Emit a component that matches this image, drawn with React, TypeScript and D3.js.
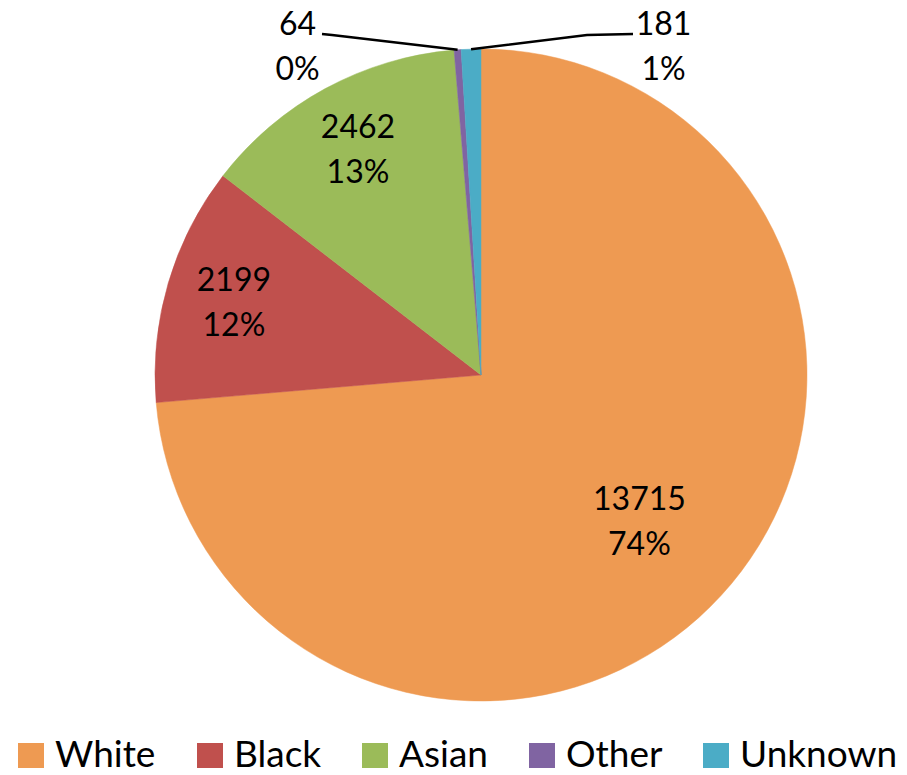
import React from "react";
import * as d3 from "d3";

const categories = ["White", "Black", "Asian", "Other", "Unknown"];
const values = [13715, 2199, 2462, 64, 181];
const percentLabels = ["74%", "12%", "13%", "0%", "1%"];
const colors = ["#EE9A52", "#C0504D", "#9BBB59", "#8064A2", "#4BACC6"];

const W = 907;
const H = 775;
const CX = 481;
const CY = 375;
const R = 326;
const FONT = "Lato, 'Open Sans', sans-serif";

export default function App() {
  const pie = d3.pie<number>().sort(null).value((d) => d);
  const arcs = pie(values);
  const arcGen = d3.arc<d3.PieArcDatum<number>>().innerRadius(0).outerRadius(R);

  const insideFrac: Record<number, number> = { 0: 0.66, 1: 0.79, 2: 0.79 };

  const polar = (angle: number, r: number) => [
    CX + r * Math.sin(angle),
    CY - r * Math.cos(angle),
  ];

  const legendX = [18, 197, 362, 529, 703];

  return (
    <svg
      width={W}
      height={H}
      style={{ position: "absolute", left: 0, top: 0, background: "#fff" }}
      fontFamily={FONT}
    >
      <g transform={`translate(${CX},${CY})`}>
        {arcs.map((a, i) => (
          <path key={i} d={arcGen(a) || ""} fill={colors[i]} stroke={colors[i]} strokeWidth={0.5} />
        ))}
      </g>
      {arcs.map((a, i) => {
        const mid = (a.startAngle + a.endAngle) / 2;
        if (insideFrac[i] !== undefined) {
          const [x, y] = polar(mid, R * insideFrac[i]);
          return (
            <g key={i} fontSize={32} fill="#000" textAnchor="middle">
              <text x={x} y={y - 11}>{values[i]}</text>
              <text x={x} y={y + 34}>{percentLabels[i]}</text>
            </g>
          );
        }
        const [ex, ey] = polar(mid, R);
        const left = i === 3;
        const elbowX = left ? 332 : 587;
        const endX = left ? 322 : 633;
        const labelX = left ? 297.5 : 663.5;
        return (
          <g key={i}>
            <polyline
              points={`${ex},${ey} ${elbowX},35 ${endX},34`}
              fill="none"
              stroke="#000"
              strokeWidth={2.5}
            />
            <g fontSize={32} fill="#000" textAnchor="middle">
              <text x={labelX} y={35}>{values[i]}</text>
              <text x={labelX} y={80}>{percentLabels[i]}</text>
            </g>
          </g>
        );
      })}
      <g>
        {categories.map((c, i) => (
          <g key={c}>
            <rect x={legendX[i]} y={743} width={26} height={25} fill={colors[i]} />
            <text x={legendX[i] + 37} y={767} fontSize={37} fill="#000">
              {c}
            </text>
          </g>
        ))}
      </g>
    </svg>
  );
}
